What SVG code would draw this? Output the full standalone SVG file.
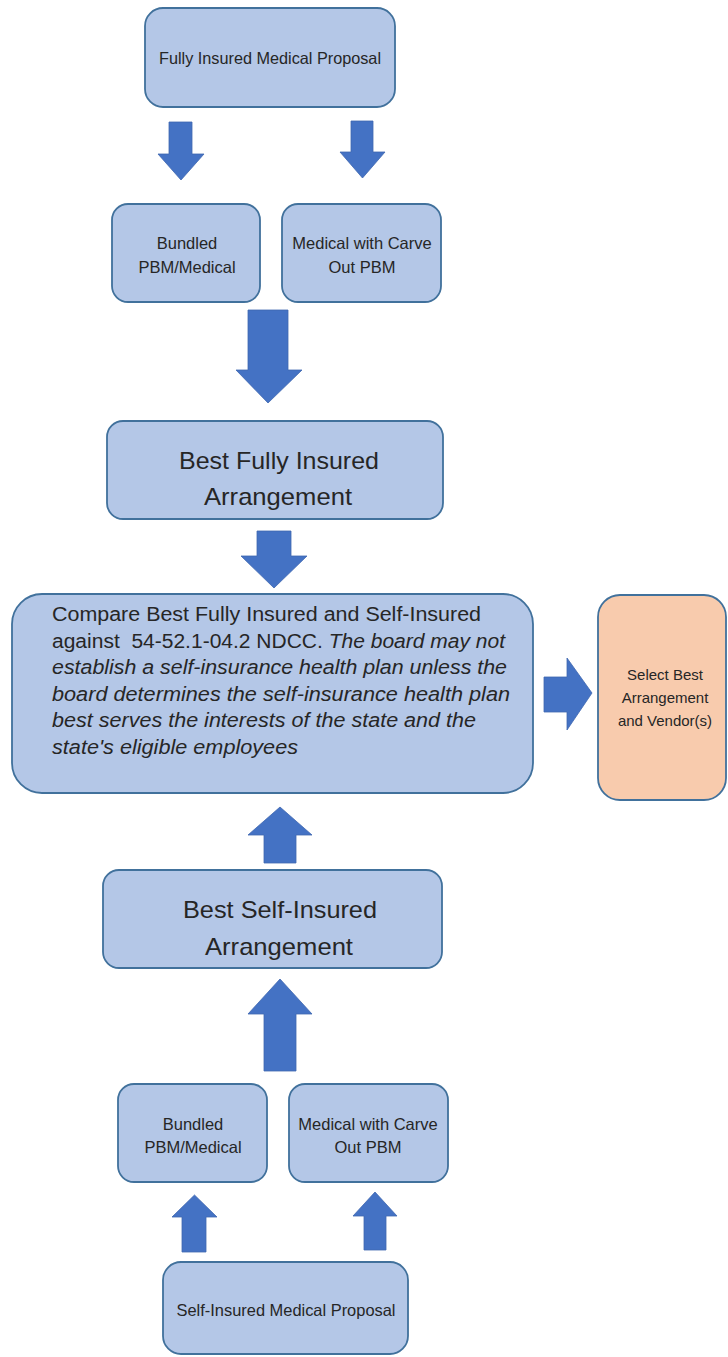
<svg xmlns="http://www.w3.org/2000/svg" width="728" height="1357" viewBox="0 0 728 1357">
<style>
.box{fill:#B4C7E7;stroke:#41719C;stroke-width:1.8}
.obox{fill:#F8CBAD;stroke:#41719C;stroke-width:1.8}
.arr{fill:#4472C4;stroke:#3F67B0;stroke-width:0.8}
text{font-family:"Liberation Sans",Arial,sans-serif;fill:#262626}
.sm{font-size:16.5px;text-anchor:middle}
.big{font-size:24px;text-anchor:middle}
.cmp{font-size:20px}
.it{font-style:italic}
</style>
<rect width="728" height="1357" fill="#ffffff"/>
<g id="connectors">
<polygon class="arr" points="169,122 192,122 192,154 204,154 181,180 158,154 169,154"/>
<polygon class="arr" points="351,121 373,121 373,152 385,152 362.5,178 340,152 351,152"/>
<polygon class="arr" points="248,310 288,310 288,370 302,370 268,403 236,370 248,370"/>
<polygon class="arr" points="257,531 291,531 291,556 307,556 274,588 241,556 257,556"/>
<polygon class="arr" points="544,677 567,677 567,658 592,693 567,730 567,712 544,712"/>
<polygon class="arr" points="280,807 312,835 296,835 296,863 264,863 264,835 248,835"/>
<polygon class="arr" points="280,979 312,1014 296,1014 296,1071 264,1071 264,1014 248,1014"/>
<polygon class="arr" points="194.5,1195 217,1217 206,1217 206,1252 182,1252 182,1217 172,1217"/>
<polygon class="arr" points="375,1192 397,1216 386,1216 386,1250 364,1250 364,1216 353,1216"/>
</g>
<g id="fully-proposal">
<rect class="box" x="145" y="8" width="250" height="99" rx="18"/>
<text class="sm" x="270" y="64" textLength="222" lengthAdjust="spacingAndGlyphs">Fully Insured Medical Proposal</text>
</g>
<g id="fully-bundled">
<rect class="box" x="112" y="204" width="148" height="98" rx="16"/>
<text class="sm" x="187" y="249">Bundled</text>
<text class="sm" x="187" y="273">PBM/Medical</text>
</g>
<g id="fully-carve">
<rect class="box" x="282" y="204" width="159" height="98" rx="16"/>
<text class="sm" x="362" y="249">Medical with Carve</text>
<text class="sm" x="362" y="273">Out PBM</text>
</g>
<g id="best-fully">
<rect class="box" x="107" y="421" width="336" height="98" rx="16"/>
<text class="big" x="279" y="469" textLength="200" lengthAdjust="spacingAndGlyphs">Best Fully Insured</text>
<text class="big" x="278" y="505" textLength="148" lengthAdjust="spacingAndGlyphs">Arrangement</text>
</g>
<g id="compare">
<rect class="box" x="12" y="594" width="521" height="199" rx="30"/>
<text class="cmp" x="52" y="621" textLength="429" lengthAdjust="spacingAndGlyphs">Compare Best Fully Insured and Self-Insured</text>
<text class="cmp" x="52" y="647.5" textLength="453" lengthAdjust="spacingAndGlyphs" style="white-space:pre">against  54-52.1-04.2 NDCC. <tspan class="it">The board may not</tspan></text>
<text class="cmp it" x="52" y="674" textLength="455" lengthAdjust="spacingAndGlyphs">establish a self-insurance health plan unless the</text>
<text class="cmp it" x="52" y="700.5" textLength="458" lengthAdjust="spacingAndGlyphs">board determines the self-insurance health plan</text>
<text class="cmp it" x="52" y="727" textLength="424" lengthAdjust="spacingAndGlyphs">best serves the interests of the state and the</text>
<text class="cmp it" x="52" y="753.5" textLength="246" lengthAdjust="spacingAndGlyphs">state's eligible employees</text>
</g>
<g id="select">
<rect class="obox" x="598" y="595" width="128" height="205" rx="22"/>
<text class="sm" x="665" y="680" style="font-size:15px">Select Best</text>
<text class="sm" x="665" y="703" style="font-size:15px">Arrangement</text>
<text class="sm" x="665" y="726" style="font-size:15px">and Vendor(s)</text>
</g>
<g id="best-self">
<rect class="box" x="103" y="870" width="339" height="98" rx="16"/>
<text class="big" x="280" y="918" textLength="194" lengthAdjust="spacingAndGlyphs">Best Self-Insured</text>
<text class="big" x="279" y="955" textLength="148" lengthAdjust="spacingAndGlyphs">Arrangement</text>
</g>
<g id="self-bundled">
<rect class="box" x="118" y="1084" width="149" height="98" rx="16"/>
<text class="sm" x="193" y="1130">Bundled</text>
<text class="sm" x="193" y="1153">PBM/Medical</text>
</g>
<g id="self-carve">
<rect class="box" x="289" y="1084" width="159" height="98" rx="16"/>
<text class="sm" x="368" y="1130">Medical with Carve</text>
<text class="sm" x="368" y="1153">Out PBM</text>
</g>
<g id="self-proposal">
<rect class="box" x="163" y="1262" width="245" height="92" rx="18"/>
<text class="sm" x="286" y="1316" textLength="219" lengthAdjust="spacingAndGlyphs">Self-Insured Medical Proposal</text>
</g>
</svg>
